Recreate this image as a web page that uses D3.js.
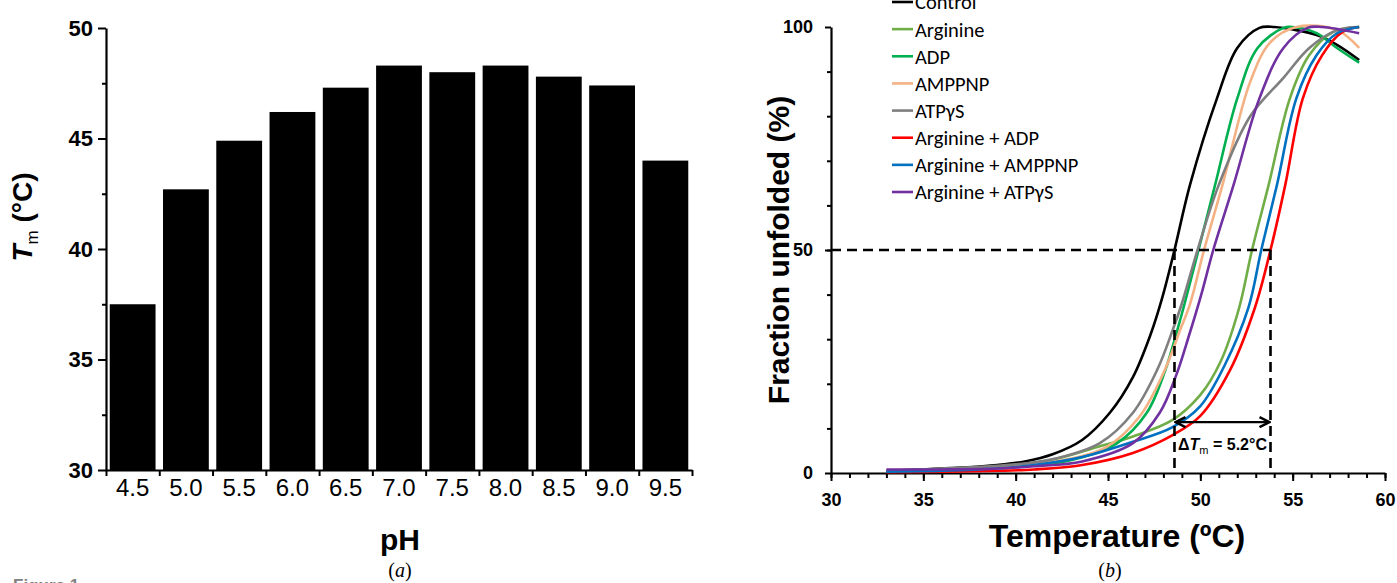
<!DOCTYPE html>
<html>
<head>
<meta charset="utf-8">
<script src="https://cdn.jsdelivr.net/npm/d3@7"></script>
<style>
  body { margin: 0; background: #fff; }
  svg { display: block; font-family: "Liberation Sans", Arial, sans-serif; }
</style>
</head>
<body>
<script>
// ---- data: panel (a) ----
const phLabels = ["4.5", "5.0", "5.5", "6.0", "6.5", "7.0", "7.5", "8.0", "8.5", "9.0", "9.5"];
const tmValues = [37.5, 42.7, 44.9, 46.2, 47.3, 48.3, 48.0, 48.3, 47.8, 47.4, 44.0];
const tmTicks = [30, 35, 40, 45, 50];
const tmMinorTicks = [32.5, 37.5, 42.5, 47.5];

// ---- data: panel (b), [temperature, % unfolded] ----
const controlPts = [[33, 0.5], [35, 0.8], [37, 1.2], [39, 1.8], [40.5, 2.6], [42, 4.2], [43.6, 7.4], [45.1, 13.5], [46.35, 21.5], [47.3, 31], [47.95, 39.5], [48.6, 50], [49.44, 64.6], [50.9, 84], [52, 95.3], [53.2, 99.8], [54, 100], [56.3, 98.2], [57.4, 96], [58.6, 92.6]];
const argininePts = [[33, 0.4], [36, 0.6], [39, 1.2], [41.9, 2.9], [44.56, 6.0], [46.35, 8.2], [48.5, 11.9], [50, 17.5], [51.1, 25], [52.1, 37], [52.8, 50], [53.7, 64.6], [54.85, 84], [55.9, 93.7], [57.2, 98.9], [58.6, 100]];
const adpPts = [[33, 0.4], [36, 0.6], [39, 1.2], [40.9, 1.8], [42.8, 2.7], [45.5, 6.7], [47.1, 13.5], [48.1, 23], [48.75, 32], [49.15, 38], [49.9, 50], [50.8, 64.6], [52, 84], [53.1, 95.3], [54.5, 99.8], [55, 100], [56.3, 98.6], [57.4, 95.3], [58.6, 92]];
const amppnpPts = [[33, 0.4], [36, 0.7], [39, 1.5], [41.9, 2.4], [44.9, 5.8], [46.7, 12.6], [48, 22.4], [48.9, 32], [49.45, 38], [50.2, 50], [51.2, 64.6], [52.7, 87.7], [53.8, 96.6], [55.2, 100], [57.4, 99.3], [58.6, 95.3]];
const atpgsPts = [[33, 0.5], [36, 1], [39, 1.6], [41.9, 3.0], [44.56, 6.7], [46.35, 13.5], [47.65, 23], [48.5, 32], [49.0, 38], [49.85, 50], [51.0, 64.6], [52.7, 80], [54.5, 88.6], [55.9, 95.3], [57.4, 99.3], [58.6, 100]];
const argAdpPts = [[33, 0.2], [36, 0.3], [39, 0.5], [41, 0.8], [43.6, 1.8], [46.35, 4.5], [48.5, 8.5], [50, 12.8], [51.6, 23], [52.95, 37], [53.8, 50], [54.6, 64.6], [55.55, 84], [56.6, 93.7], [57.7, 98.9], [58.6, 100]];
const argAmppnpPts = [[33, 0.3], [36, 0.5], [39, 1], [41, 1.8], [43.6, 3.6], [46.35, 7], [48.5, 10.3], [50, 15], [51.3, 24], [52.6, 37], [53.3, 50], [54.15, 64.6], [55.2, 84], [56.3, 93.7], [57.4, 98.6], [58.6, 100]];
const argAtpgsPts = [[33, 0.8], [36, 0.8], [39, 1], [41, 1.5], [43.6, 2.6], [46.35, 6.7], [47.8, 13.5], [48.7, 22], [49.4, 31], [50.05, 40], [50.7, 50], [51.8, 64.6], [53.2, 84], [54.5, 95.3], [55.8, 99.8], [56.6, 100], [58.6, 98.6]];

const seriesNames = ["Control", "Arginine", "ADP", "AMPPNP", "ATPγS", "Arginine + ADP", "Arginine + AMPPNP", "Arginine + ATPγS"];
const seriesPts = [controlPts, argininePts, adpPts, amppnpPts, atpgsPts, argAdpPts, argAmppnpPts, argAtpgsPts];
const seriesColors = ["#000000", "#70AD47", "#00B050", "#F4B183", "#7F7F7F", "#FF0000", "#0070C0", "#7030A0"];

const tempTicks = [30, 35, 40, 45, 50, 55, 60];
const fracTicks = [0, 50, 100];
const tmControl = 48.6;   // left dashed line
const tmArgAdp = 53.8;    // right dashed line
const halfLevel = 50;
const arrowLevel = 11.4;
const deltaTm = 5.2;

const svg = d3.select("body").append("svg")
  .attr("width", 1397)
  .attr("height", 583);

// =================== panel (a): bar chart ===================
const xBand = d3.scaleBand().domain(phLabels).range([106, 692]).paddingInner(0.14).paddingOuter(0.07);
const xIdx = d3.scaleLinear().domain([0, phLabels.length]).range([106, 692]);
const yTm = d3.scaleLinear().domain([30, 50]).range([470, 28]);

svg.append("g")
  .selectAll("rect")
  .data(tmValues)
  .join("rect")
  .attr("x", (d, i) => xBand(phLabels[i]))
  .attr("y", d => yTm(d))
  .attr("width", xBand.bandwidth())
  .attr("height", d => yTm(30) - yTm(d))
  .attr("fill", "#000");

// y 軸
svg.append("g")
  .attr("transform", "translate(106,0)")
  .call(d3.axisLeft(yTm).tickValues(tmTicks).tickSize(8).tickSizeOuter(0).tickPadding(5))
  .call(g => g.select(".domain").attr("stroke-width", 2.2))
  .call(g => g.selectAll(".tick line").attr("stroke-width", 2))
  .selectAll("text")
  .style("font-size", "22px")
  .style("font-weight", "bold")
  .attr("fill", "#000");

svg.append("g")
  .attr("transform", "translate(106,0)")
  .call(d3.axisLeft(yTm).tickValues(tmMinorTicks).tickSize(4).tickSizeOuter(0).tickFormat(""))
  .call(g => g.select(".domain").remove())
  .selectAll(".tick line").attr("stroke-width", 2);

// x 軸 (ticks between bars)
svg.append("g")
  .attr("transform", "translate(0,470)")
  .call(d3.axisBottom(xIdx).tickValues(d3.range(0, phLabels.length + 1)).tickSize(6).tickSizeOuter(0).tickFormat(""))
  .call(g => g.select(".domain").attr("stroke-width", 2.2))
  .selectAll(".tick line").attr("stroke-width", 2);

svg.append("g")
  .attr("transform", "translate(0,470)")
  .call(d3.axisBottom(xBand).tickSize(0).tickPadding(9))
  .call(g => g.select(".domain").remove())
  .selectAll("text")
  .style("font-family", "'Liberation Sans Narrow', 'Arial Narrow', 'Liberation Sans', sans-serif")
  .style("font-size", "24px")
  .attr("fill", "#000");

// y label T_m (°C)
const tmLabel = svg.append("text")
  .attr("transform", "translate(32,217) rotate(-90)")
  .attr("text-anchor", "middle")
  .style("font-size", "28px")
  .style("font-weight", "bold");
tmLabel.append("tspan").style("font-style", "italic").text("T");
tmLabel.append("tspan").attr("dy", 6).style("font-size", "17px").style("font-weight", "normal").text("m");
tmLabel.append("tspan").attr("dy", -6).text(" (°C)");

svg.append("text")
  .attr("x", 400).attr("y", 550)
  .attr("text-anchor", "middle")
  .style("font-size", "30px")
  .style("font-weight", "bold")
  .text("pH");

svg.append("text")
  .attr("x", 400).attr("y", 577)
  .attr("text-anchor", "middle")
  .style("font-family", "'Liberation Serif', 'DejaVu Serif', serif")
  .style("font-size", "20px")
  .html("(<tspan font-style='italic'>a</tspan>)");

svg.append("text")
  .attr("x", 13).attr("y", 591)
  .style("font-size", "17px")
  .style("font-weight", "bold")
  .attr("fill", "#808080")
  .text("Figure 1");

// =================== panel (b): melting curves ===================
const xT = d3.scaleLinear().domain([30, 60]).range([831, 1385]);
const yF = d3.scaleLinear().domain([0, 100]).range([473, 27]);

svg.append("g")
  .attr("transform", "translate(831,0)")
  .call(d3.axisLeft(yF).tickValues(fracTicks).tickSize(6).tickSizeOuter(0).tickPadding(12))
  .call(g => g.select(".domain").attr("stroke-width", 2.2))
  .call(g => g.selectAll(".tick line").attr("stroke-width", 2))
  .selectAll("text")
  .style("font-size", "18px")
  .style("font-weight", "bold")
  .attr("fill", "#000");

svg.append("g")
  .attr("transform", "translate(831,0)")
  .call(d3.axisLeft(yF).tickValues(d3.range(10, 100, 10)).tickSize(4).tickSizeOuter(0).tickFormat(""))
  .call(g => g.select(".domain").remove())
  .selectAll(".tick line").attr("stroke-width", 2);

svg.append("g")
  .attr("transform", "translate(0,473)")
  .call(d3.axisBottom(xT).tickValues(tempTicks).tickSize(8).tickSizeOuter(0).tickPadding(12))
  .call(g => g.select(".domain").attr("stroke-width", 2.2))
  .call(g => g.selectAll(".tick line").attr("stroke-width", 2))
  .selectAll("text")
  .style("font-size", "18px")
  .style("font-weight", "bold")
  .attr("fill", "#000");

svg.append("g")
  .attr("transform", "translate(0,473)")
  .call(d3.axisBottom(xT).tickValues(d3.range(30, 61, 1)).tickSize(5).tickSizeOuter(0).tickFormat(""))
  .call(g => g.select(".domain").remove())
  .selectAll(".tick line").attr("stroke-width", 2);

// 曲線
const line = d3.line()
  .x(d => xT(d[0]))
  .y(d => yF(d[1]))
  .curve(d3.curveCatmullRom.alpha(0.5));

svg.append("g")
  .selectAll("path")
  .data(seriesPts)
  .join("path")
  .attr("fill", "none")
  .attr("stroke", (d, i) => seriesColors[i])
  .attr("stroke-width", 2.6)
  .attr("d", line);

// dashed guides
const guides = svg.append("g")
  .attr("stroke", "#000")
  .attr("stroke-width", 2.6)
  .attr("stroke-dasharray", "10,6");
guides.append("line")
  .attr("x1", xT(30)).attr("x2", xT(tmArgAdp))
  .attr("y1", yF(halfLevel)).attr("y2", yF(halfLevel));
guides.selectAll("line.v")
  .data([tmControl, tmArgAdp])
  .join("line")
  .attr("class", "v")
  .attr("x1", d => xT(d)).attr("x2", d => xT(d))
  .attr("y1", yF(halfLevel)).attr("y2", yF(0));

// ΔTm arrow
const defs = svg.append("defs");
defs.append("marker")
  .attr("id", "chev")
  .attr("viewBox", "0 0 12 12")
  .attr("refX", 11).attr("refY", 6)
  .attr("markerWidth", 12).attr("markerHeight", 12)
  .attr("markerUnits", "userSpaceOnUse")
  .attr("orient", "auto-start-reverse")
  .append("path")
  .attr("d", "M1,1 L11,6 L1,11")
  .attr("fill", "none")
  .attr("stroke", "#000")
  .attr("stroke-width", 2.4);

svg.append("line")
  .attr("x1", xT(tmControl) + 1).attr("x2", xT(tmArgAdp) - 1)
  .attr("y1", yF(arrowLevel)).attr("y2", yF(arrowLevel))
  .attr("stroke", "#000")
  .attr("stroke-width", 2.4)
  .attr("marker-start", "url(#chev)")
  .attr("marker-end", "url(#chev)");

const dLabel = svg.append("text")
  .attr("x", (xT(tmControl) + xT(tmArgAdp)) / 2)
  .attr("y", yF(arrowLevel) + 28)
  .attr("text-anchor", "middle")
  .style("font-size", "16px")
  .style("font-weight", "bold");
dLabel.append("tspan").text("Δ");
dLabel.append("tspan").style("font-style", "italic").text("T");
dLabel.append("tspan").attr("dy", 4).style("font-size", "11px").style("font-weight", "normal").text("m");
dLabel.append("tspan").attr("dy", -4).text(` = ${deltaTm}°C`);

// legend
const yLeg = d3.scaleLinear().domain([0, seriesNames.length - 1]).range([2, 192]);
const legend = svg.append("g")
  .selectAll("g")
  .data(seriesNames)
  .join("g")
  .attr("transform", (d, i) => `translate(892,${yLeg(i)})`);
legend.append("line")
  .attr("x1", 0).attr("x2", 21)
  .attr("stroke", (d, i) => seriesColors[i])
  .attr("stroke-width", 2.6);
legend.append("text")
  .attr("x", 23)
  .attr("dy", "0.36em")
  .style("font-family", "Carlito, Lato, 'Open Sans', sans-serif")
  .style("font-size", "20.5px")
  .text(d => d);

// axis titles
svg.append("text")
  .attr("transform", "translate(789,250) rotate(-90)")
  .attr("text-anchor", "middle")
  .style("font-size", "30px")
  .style("font-weight", "bold")
  .text("Fraction unfolded (%)");

svg.append("text")
  .attr("x", 1117).attr("y", 547)
  .attr("text-anchor", "middle")
  .style("font-size", "32px")
  .style("font-weight", "bold")
  .text("Temperature (ºC)");

svg.append("text")
  .attr("x", 1110).attr("y", 577)
  .attr("text-anchor", "middle")
  .style("font-family", "'Liberation Serif', 'DejaVu Serif', serif")
  .style("font-size", "20px")
  .html("(<tspan font-style='italic'>b</tspan>)");
</script>
</body>
</html>
